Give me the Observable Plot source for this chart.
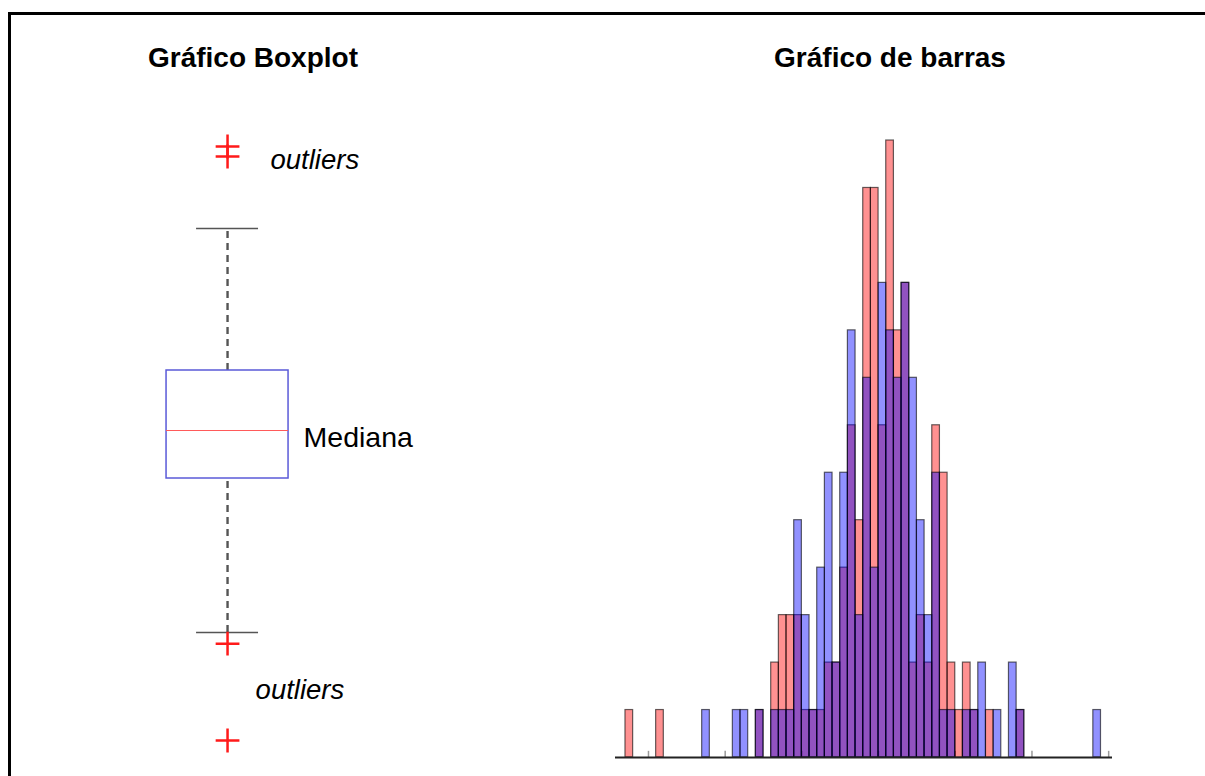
<!DOCTYPE html>
<html><head><meta charset="utf-8">
<script src="https://cdn.jsdelivr.net/npm/d3@7"></script>
<script src="https://cdn.jsdelivr.net/npm/@observablehq/plot@0.6"></script>
<style>
body{margin:0;background:#fff;font-family:"Liberation Sans",Arial,sans-serif;}
#page{position:relative;width:1205px;height:776px;overflow:hidden;background:#fff;}
#frame{position:absolute;left:8px;top:12px;width:1300px;height:900px;border-left:3px solid #000;border-top:3px solid #000;z-index:5;}
.title{position:absolute;top:44px;font-weight:bold;font-size:28px;line-height:28px;text-align:center;color:#000;white-space:nowrap;}
#left{position:absolute;left:0;top:0;width:600px;height:776px;}
#right{position:absolute;left:600px;top:0;width:605px;height:776px;}
</style></head>
<body><div id="page"><div id="frame"></div>
<div class="title" style="left:53px;width:400px">Gráfico Boxplot</div>
<div class="title" style="left:690px;width:400px">Gráfico de barras</div>
<div id="left"></div><div id="right"></div></div>
<script>
// ---- Boxplot data ----
const boxStats = {hi: 5.05, q3: 1.5, median: 0, q1: -1.2, lo: -5.05};
const outliers = [7.1, 6.85, -5.33, -7.75];
const outlierLabels = [
  {text: "outliers", x: 0.352, y: 6.75},
  {text: "outliers", x: 0.23, y: -6.5}
];
const medianLabel = [{text: "Mediana", x: 0.623, y: -0.18}];

// ---- Histogram data ----
const binStart = -3.3, binWidth = 0.1;
const redCounts = [
  1,0,0,0,1,0,0,0,0,0,
  0,0,0,0,0,0,0,1,0,2,
  3,3,3,1,1,1,2,2,4,7,
  5,12,12,7,13,9,10,2,3,2,
  7,6,2,1,2,1,0,1,0,0,
  0,1,0,0,0,0,0,0,0,0,
  0,0
];
const blueCounts = [
  0,0,0,0,0,0,0,0,0,0,
  1,0,0,0,1,1,0,1,0,1,
  1,1,5,3,1,4,6,2,6,9,
  3,8,4,10,9,8,10,8,5,3,
  6,1,1,0,1,1,2,0,1,0,
  2,1,0,0,0,0,0,0,0,0,
  0,1
];
const xTicks = [-3, -2, -1, 0, 1, 2, 3];

const toBins = counts => counts.map((c, i) => ({x1: binStart + i * binWidth, x2: binStart + (i + 1) * binWidth, c})).filter(d => d.c > 0);

const boxPlot = Plot.plot({
  width: 600, height: 776, margin: 0,
  style: {background: "transparent", fontFamily: "Liberation Sans, Arial, sans-serif"},
  x: {domain: [-1.861, 3.057], axis: null},
  y: {domain: [-8.65, 10.75], axis: null},
  marks: [
    Plot.ruleX([boxStats], {x: 0, y1: "q3", y2: "hi", stroke: "#555", strokeWidth: 2.4, strokeDasharray: "7,5"}),
    Plot.ruleX([boxStats], {x: 0, y1: "lo", y2: "q1", stroke: "#555", strokeWidth: 2.4, strokeDasharray: "7,5"}),
    Plot.ruleY([boxStats], {y: "hi", x1: -0.254, x2: 0.254, stroke: "#555", strokeWidth: 1.5}),
    Plot.ruleY([boxStats], {y: "lo", x1: -0.254, x2: 0.254, stroke: "#555", strokeWidth: 1.5}),
    Plot.rect([boxStats], {x1: -0.5, x2: 0.5, y1: "q1", y2: "q3", fill: "white", stroke: "#5a5ad8", strokeWidth: 1.5}),
    Plot.ruleY([boxStats], {y: "median", x1: -0.5, x2: 0.5, stroke: "#ff5a5a", strokeWidth: 1}),
    Plot.dot(outliers, {x: 0, y: d => d, symbol: "plus", r: 7.7, stroke: "#ff1a1a", strokeWidth: 2.5}),
    Plot.text(outlierLabels, {x: "x", y: "y", text: "text", fontStyle: "italic", textAnchor: "start", lineAnchor: "middle", fontSize: 27.5, fill: "#000"}),
    Plot.text(medianLabel, {x: "x", y: "y", text: "text", textAnchor: "start", lineAnchor: "middle", fontSize: 28.5, fill: "#000"})
  ]
});
document.getElementById("left").appendChild(boxPlot);

const hist = Plot.plot({
  width: 605, height: 776,
  marginLeft: 15, marginRight: 93, marginTop: 140, marginBottom: 19,
  style: {background: "transparent"},
  x: {domain: [-3.43, 3.05], axis: null},
  y: {domain: [0, 13], axis: null},
  marks: [
    Plot.ruleX(xTicks, {x: d => d, y1: 0, y2: 0.13, stroke: "#999", strokeWidth: 1.5}),
    Plot.rectY(toBins(redCounts), {x1: "x1", x2: "x2", y: "c", fill: "#ff0000", fillOpacity: 0.43, stroke: "#000", strokeOpacity: 0.6, strokeWidth: 1.2}),
    Plot.rectY(toBins(blueCounts), {x1: "x1", x2: "x2", y: "c", fill: "#0000ff", fillOpacity: 0.43, stroke: "#000", strokeOpacity: 0.6, strokeWidth: 1.2}),
    Plot.ruleY([0], {stroke: "#222", strokeWidth: 2})
  ]
});
document.getElementById("right").appendChild(hist);
</script>
</body></html>
